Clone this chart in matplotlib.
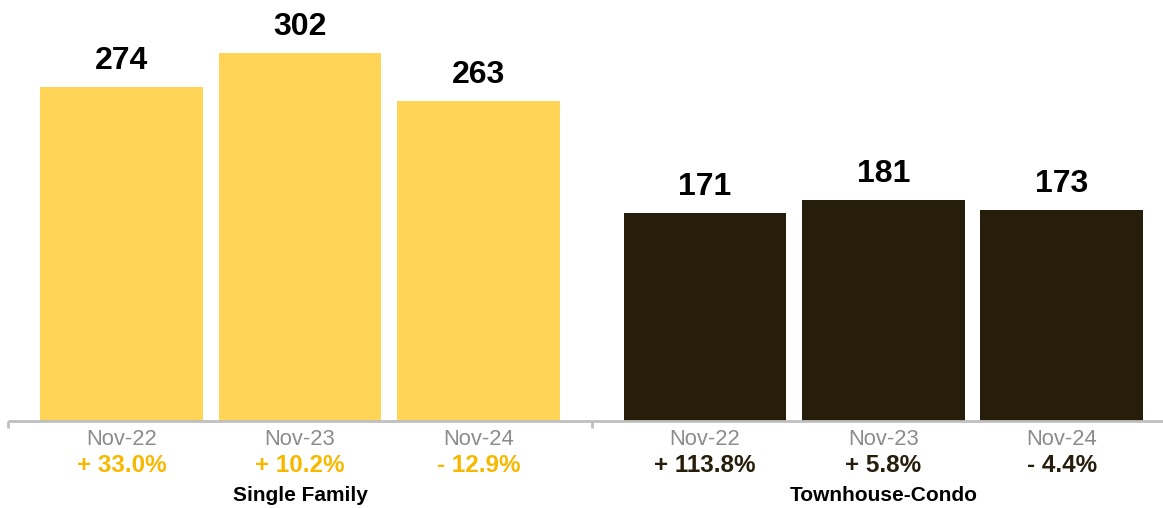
import matplotlib
matplotlib.use("Agg")
from matplotlib import pyplot as plt

plt.rcParams['font.family'] = ['Liberation Sans', 'DejaVu Sans']

groups = ['Single Family', 'Townhouse-Condo']
months = ['Nov-22', 'Nov-23', 'Nov-24']
single_family = [274, 302, 263]
townhouse_condo = [171, 181, 173]
sf_change = ['+ 33.0%', '+ 10.2%', '- 12.9%']
tc_change = ['+ 113.8%', '+ 5.8%', '- 4.4%']

sf_color = '#FFD457'
tc_color = '#261D0A'
sf_text = '#F7B800'
month_gray = '#8C8C8C'
axis_gray = '#BFBFBF'

group_gap = 1.269
bar_width = 0.913
sf_x = [i for i in range(len(months))]
tc_x = [i + len(months) - 1 + group_gap for i in range(len(months))]

fig = plt.figure(figsize=(11.63, 5.08), dpi=100)
ax = fig.add_axes([0, 0.17126, 1, 0.82874])

ax.bar(sf_x, single_family, width=bar_width, color=sf_color)
ax.bar(tc_x, townhouse_condo, width=bar_width, color=tc_color)

ax.set_xlim(-0.6807, 5.835)
ax.set_ylim(0, 345.5)
ax.axis('off')

# baseline and separator ticks
left_end = -0.636
sep = (sf_x[-1] + tc_x[0]) / 2
ax.plot([left_end, 5.835], [0, 0], color=axis_gray, lw=2, clip_on=False, solid_capstyle='butt')
for xt in [left_end, sep]:
    ax.plot([xt, xt], [0, -5.7], color=axis_gray, lw=2, clip_on=False, solid_capstyle='butt')

for xs, vals, changes, ccol in [(sf_x, single_family, sf_change, sf_text),
                                (tc_x, townhouse_condo, tc_change, tc_color)]:
    for x, v, m, c in zip(xs, vals, months, changes):
        ax.annotate(str(v), xy=(x, v), xytext=(0, 11), textcoords='offset pixels',
                    ha='center', va='bottom', fontsize=23, fontweight='bold', color='black')
        ax.annotate(m, xy=(x, 0), xytext=(0, -19), textcoords='offset pixels',
                    ha='center', va='center', fontsize=15.8, color=month_gray)
        ax.annotate(c, xy=(x, 0), xytext=(0, -45), textcoords='offset pixels',
                    ha='center', va='center', fontsize=17.5, fontweight='bold', color=ccol)

for g, xs in zip(groups, [sf_x, tc_x]):
    ax.annotate(g, xy=(xs[1], 0), xytext=(0, -75), textcoords='offset pixels',
                ha='center', va='center', fontsize=15, fontweight='bold', color='black')

plt.savefig('out.png', dpi=100)
